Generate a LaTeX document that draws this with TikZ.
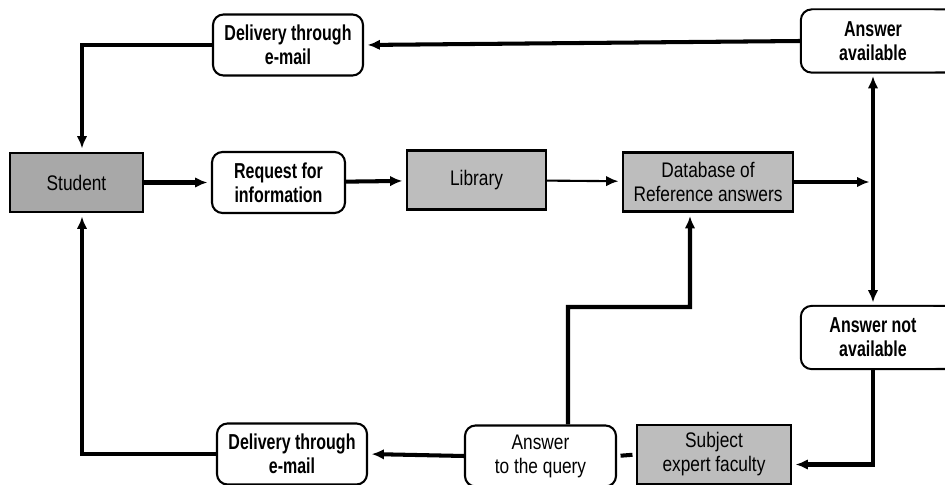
\documentclass[tikz,border=0pt]{standalone}
\usepackage{fontspec}
\setmainfont{Liberation Sans}[FakeStretch=0.82, BoldFeatures={FakeStretch=0.74}]
\usetikzlibrary{arrows.meta}
\tikzset{>={Latex[length=7pt,width=6pt]}}
\definecolor{boxgray}{HTML}{BDBDBD}
\definecolor{darkgray}{HTML}{A8A8A8}
\tikzset{
  graybox/.style={draw, line width=1.2pt, fill=boxgray, minimum width=#1, minimum height=1.18cm,
    align=center, font=\fontsize{12}{13.6}\selectfont, inner sep=1pt},
  graybox/.default=2.7cm,
  roundbox/.style={draw, line width=1.2pt, rounded corners=6pt, fill=white, minimum width=#1,
    minimum height=1.22cm, align=center, font=\fontsize{12.3}{13.6}\selectfont\bfseries, inner sep=1pt},
  roundbox/.default=2.9cm,
  % frame that runs off the right edge of the page
  openbox/.style={roundbox=#1, draw=none,
    append after command={\pgfextra{\draw[line width=1.2pt, rounded corners=6pt]
      (\tikzlastnode.north west) rectangle ([xshift=0.6cm]\tikzlastnode.south east);}}},
  flow/.style={line width=2.3pt, ->, shorten >=2pt},
}
\begin{document}
\begin{tikzpicture}
  \useasboundingbox (0,0) rectangle (18.9,9.7);

  % Nodes
  \node[graybox=2.66cm, fill=darkgray] (student) at (1.53, 6.05) {Student};
  \node[roundbox=2.66cm] (request) at (5.57, 6.05) {Request for\\information};
  \node[graybox=2.78cm] (library) at (9.53, 6.10) {Library};
  \node[graybox=3.4cm] (database) at (14.16, 6.06) {Database of\\Reference answers};
  \node[openbox=2.84cm] (ansyes) at (17.46, 8.88) {Answer\\available};
  \node[roundbox=3.0cm] (deltop) at (5.76, 8.80) {Delivery through\\e-mail};
  \node[openbox=2.84cm] (ansno) at (17.46, 2.95) {Answer not\\available};
  \node[graybox=3.08cm] (expert) at (14.28, 0.61) {Subject\\expert faculty};
  \node[roundbox=3.02cm, font=\fontsize{12}{13.6}\selectfont] (query) at (10.81, 0.58) {Answer\\to the query};
  \node[roundbox=3.0cm] (delbot) at (5.84, 0.62) {Delivery through\\e-mail};

  % Junction on the right-hand vertical
  \coordinate (junction) at (17.46, 6.06);

  % Main row
  \draw[flow] (student) -- (request);
  \draw[flow] (request) -- (library);
  \draw[flow, line width=1.2pt] (library) -- (database);
  \draw[flow] (database) -- (junction);
  \draw[line width=2.3pt, <->, shorten <=2pt, shorten >=2pt] (ansyes) -- (ansno);

  % Answer found
  \draw[flow] (ansyes.west) -- (deltop.east);
  \draw[flow] (deltop.west) -| ([xshift=0.11cm]student.north);

  % Answer not found
  \draw[flow] (ansno.south) |- ([yshift=-0.2cm]expert.east);
  \draw[line width=2.3pt, shorten <=2pt, shorten >=2pt] (expert.west) -- (query.east);
  \draw[flow] (query.west) -- (delbot.east);
  \draw[flow] (delbot.west) -| ([xshift=0.11cm]student.south);
  \draw[flow] ([xshift=0.55cm]query.north) |- (13.8, 3.56) -- ([xshift=-0.36cm]database.south);
\end{tikzpicture}
\end{document}
